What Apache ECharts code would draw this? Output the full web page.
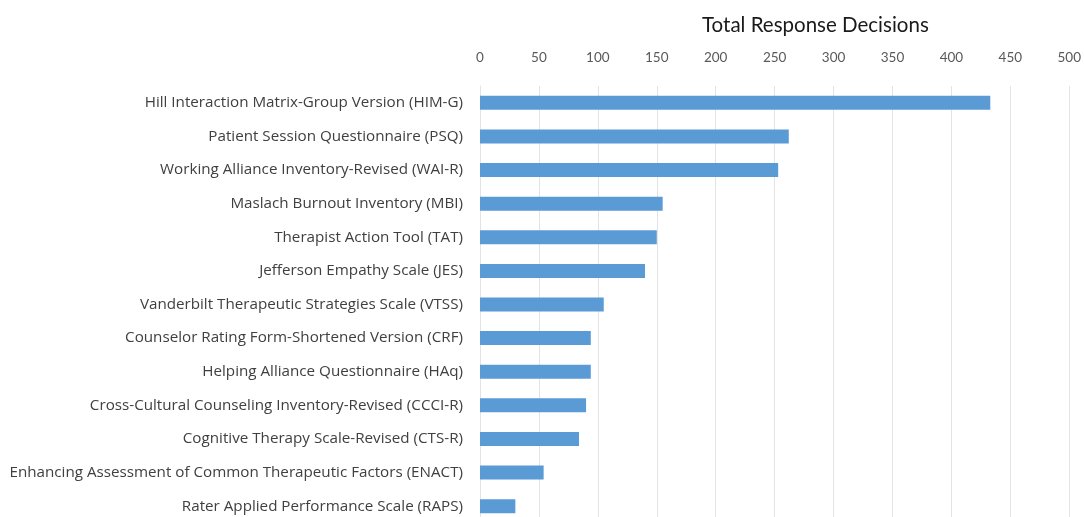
<!DOCTYPE html>
<html>
<head>
<meta charset="utf-8">
<script src="https://cdn.jsdelivr.net/npm/echarts@6/dist/echarts.min.js"></script>
<style>html,body{margin:0;padding:0;background:#fff;overflow:hidden;width:1084px;height:517px}#c{width:1084px;height:523px}</style>
</head>
<body>
<div id="c"></div>
<script>
const categories = [
  "Hill Interaction Matrix-Group Version (HIM-G)",
  "Patient Session Questionnaire (PSQ)",
  "Working Alliance Inventory-Revised (WAI-R)",
  "Maslach Burnout Inventory (MBI)",
  "Therapist Action Tool (TAT)",
  "Jefferson Empathy Scale (JES)",
  "Vanderbilt Therapeutic Strategies Scale (VTSS)",
  "Counselor Rating Form-Shortened Version (CRF)",
  "Helping Alliance Questionnaire (HAq)",
  "Cross-Cultural Counseling Inventory-Revised (CCCI-R)",
  "Cognitive Therapy Scale-Revised (CTS-R)",
  "Enhancing Assessment of Common Therapeutic Factors (ENACT)",
  "Rater Applied Performance Scale (RAPS)"
];
const values = [433, 262, 253, 155, 150, 140, 105, 94, 94, 90, 84, 54, 30];
const titleText = "Total Response Decisions";

const chart = echarts.init(document.getElementById('c'), null, {renderer: 'canvas'});
chart.setOption({
  animation: false,
  title: {
    text: titleText,
    left: 697, top: 10,
    textStyle: {fontFamily: 'Lato', fontSize: 20.5, fontWeight: 'normal', color: '#1a1a1a'}
  },
  grid: {left: 480, right: 12, top: 86, bottom: 0, containLabel: false},
  xAxis: {
    type: 'value', position: 'top', min: 0, max: 500, interval: 50,
    axisLine: {show: false}, axisTick: {show: false},
    axisLabel: {margin: 21, color: '#595959', fontFamily: 'Lato', fontSize: 13.5},
    splitLine: {show: true, lineStyle: {color: '#e3e3e3', width: 1}}
  },
  yAxis: {
    type: 'category', data: categories, inverse: true,
    axisLine: {show: true, lineStyle: {color: '#e3e3e3'}}, axisTick: {show: false},
    axisLabel: {margin: 17, color: '#404040', fontFamily: 'Open Sans', fontSize: 15.2}
  },
  series: [{
    type: 'bar', data: values, barWidth: 14,
    itemStyle: {color: '#5b9bd5'}
  }]
});
</script>
</body>
</html>
